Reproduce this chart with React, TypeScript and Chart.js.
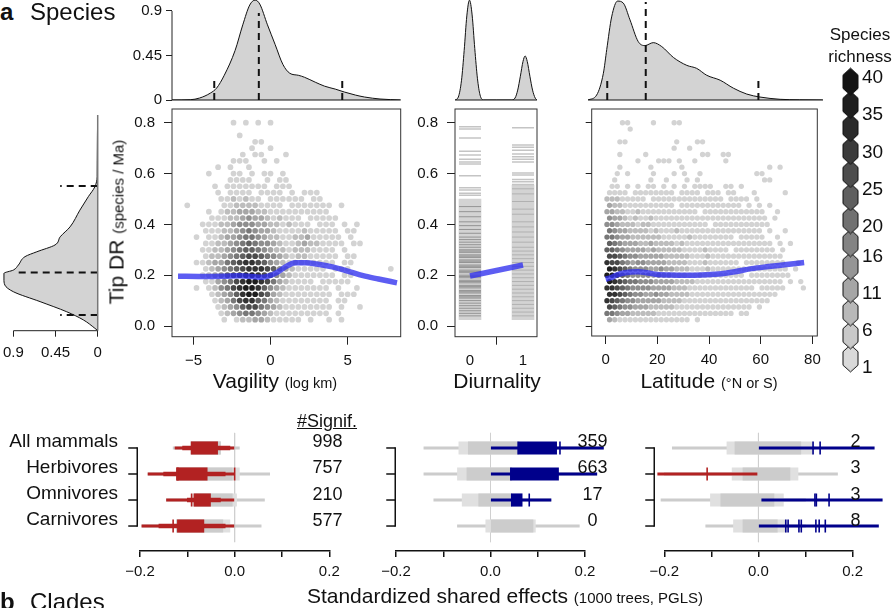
import React, { useEffect, useRef } from 'react';
import { Chart, registerables } from 'chart.js';

Chart.register(...registerables);
const FONT = '"Liberation Sans", Arial, Helvetica, sans-serif';
Chart.defaults.font.family = FONT;
Chart.defaults.font.size = 15;
Chart.defaults.color = '#111';

// ================= DATA =================
// tick values / labels
const vagTicks = [-5, 0, 5];
const vagTickLabels = ['\u22125', '0', '5'];
const diurTicks = [0, 1];
const diurTickLabels = ['0', '1'];
const latTicks = [0, 20, 40, 60, 80];
const latTickLabels = ['0', '20', '40', '60', '80'];
const drTicks = [0, 0.2, 0.4, 0.6, 0.8];
const drTickLabels = ['0.0', '0.2', '0.4', '0.6', '0.8'];
const densTicks = [0, 0.45, 0.9];
const densTickLabels = ['0', '0.45', '0.9'];

// marginal density: vagility (top)
const vagDensX = [-6.4, -5.2, -4.6, -3.9, -3.5, -3.0, -2.3, -1.8, -1.35, -1.0, -0.7, -0.2, 0.3, 0.8, 1.25, 1.8, 2.2, 2.9, 3.5, 4.2, 4.8, 5.5, 6.1, 7.1, 8.44];
const vagDensY = [0, 0.003, 0.02, 0.07, 0.12, 0.25, 0.5, 0.76, 0.96, 1.01, 0.97, 0.76, 0.56, 0.36, 0.27, 0.25, 0.23, 0.18, 0.14, 0.11, 0.08, 0.05, 0.03, 0.01, 0];
const vagDashX = [-3.65, -0.76, 4.65];
const vagDashH = [0.23, 0.88, 0.23];

// marginal density: diurnality (top)
const diurDensX = [-0.28, -0.22, -0.16, -0.11, -0.06, -0.01, 0.04, 0.09, 0.14, 0.19, 0.26, 0.5, 0.78, 0.85, 0.9, 0.95, 1.0, 1.04, 1.08, 1.13, 1.18, 1.23, 1.264];
const diurDensY = [0, 0.03, 0.2, 0.5, 0.85, 1.01, 0.86, 0.52, 0.22, 0.05, 0, 0, 0, 0.02, 0.1, 0.24, 0.39, 0.445, 0.39, 0.24, 0.1, 0.02, 0];

// marginal density: latitude (top)
const latDensX = [-6.85, -3.5, -0.9, 0.4, 2.3, 4.6, 6.8, 9.4, 12.6, 15.2, 18.4, 21.7, 26.2, 31.4, 35.2, 39.1, 44.3, 49.4, 54.6, 59.7, 67.5, 75, 84];
const latDensY = [0, 0.05, 0.27, 0.51, 0.84, 1.0, 0.98, 0.81, 0.59, 0.55, 0.58, 0.54, 0.43, 0.35, 0.32, 0.25, 0.2, 0.12, 0.06, 0.03, 0.007, 0.002, 0];
const latDashX = [0.6, 15.5, 59.1];
const latDashH = [0.22, 0.99, 0.22];

// marginal density: tip DR (left)
const drDensY = [-0.018, -0.009, 0.024, 0.056, 0.096, 0.135, 0.161, 0.185, 0.207, 0.22, 0.24, 0.273, 0.292, 0.319, 0.351, 0.39, 0.456, 0.509, 0.548, 0.587, 0.65, 0.75, 0.83];
const drDensX = [0, 0.03, 0.153, 0.33, 0.615, 0.9, 0.99, 1.0, 1.0, 0.9, 0.846, 0.775, 0.65, 0.455, 0.4, 0.295, 0.19, 0.1, 0.03, 0.006, 0.005, 0.003, 0];
const drDashY = [0.043, 0.211, 0.551];
const drDashW = [0.4, 0.88, 0.4];

// loess fits
const vagFitX = [-6.0, -4.5, -3.0, -2.0, -1.4, -0.9, -0.5, -0.15, 0.4, 1.0, 1.6, 2.3, 3.0, 4.0, 5.0, 6.0, 7.0, 8.2];
const vagFitY = [0.196, 0.195, 0.196, 0.198, 0.196, 0.193, 0.192, 0.196, 0.21, 0.234, 0.249, 0.249, 0.244, 0.233, 0.216, 0.198, 0.185, 0.17];
const diurFitX = [0, 1];
const diurFitY = [0.197, 0.24];
const latFitX = [0, 2, 4, 7.5, 12.6, 16, 19.1, 25, 30.7, 37, 43.6, 50, 56.5, 63, 70, 76.8];
const latFitY = [0.185, 0.19, 0.2, 0.21, 0.214, 0.21, 0.204, 0.201, 0.2, 0.201, 0.205, 0.214, 0.226, 0.234, 0.242, 0.25];

// hexbin counts (level 1..9 per cell, '.' empty); rows from DR 0.8 down by 0.025
const hexDRTop = 0.8;
const hexDRStep = 0.025;
const vagHexX0 = -6.0;
const vagHexStep = 0.4;
const vagHexRows = [
  '.........1.1.1.1',
  '',
  '..........1',
  '............11',
  '............1..1',
  '..........1.11...1',
  '.........111..1.1',
  '......1.1..1',
  '.....1...11.1.11.1',
  '........1111..1.11',
  '......1.1111111.111',
  '......1.1111.1111.1.111',
  '.......1121211.111111.11',
  '.1.....1122221111.1111111.1',
  '.....1.122333221111111111',
  '.....111223433212111.11111',
  '....111223444332212111.111.1.1',
  '....1112234543321111211111.11',
  '...1.1123345543221122311111.1',
  '....11223456544321123221111.11',
  '....1122345665432212221111.1',
  '....1223456776543212211111.11',
  '...11233567887643212111111.11',
  '....12345678887643211111.111......1',
  '....1234678998764321111111.11',
  '....113457899875321111.11111',
  '...1.12457899864321111111.1..1',
  '.....12346899763211111111.111',
  '......1235788653211111111.11',
  '......1234677543211111111.1..1',
  '.......123455432111111111.1',
  '.......1.12233211111.1..1.1',
];
const latHexX0 = 0.5;
const latHexStep = 2;
const latHexRows = [
  '...11....1...11',
  '....1',
  '',
  '..11.........1...11',
  '.............1..1',
  '..1....1..........11..11',
  '......1...111.1..1.....1',
  '..1.....1.....1................1.1',
  '..1.1....1...1.1..1..........11',
  '.1......1..1...1.1............11',
  '.11.1.1.11.1.1.1.1111..11.1',
  '1111.11111111.1111.111.11...1.....1',
  '22211111.11111111111111.1111.1',
  '3221111111111.111111111111.1.1.1',
  '332211211111111111.111111111111..1',
  '4332121121111111111111111111111.1',
  '44322212211111111111.11111111111',
  '543322221211121111111111111111.1..1',
  '5543322222211111211111111.11111..1',
  '65433322322221211111111111111111.1.1',
  '665433332322222111121111.11111111.1',
  '7765443333322222111211111111111111',
  '87754344333322221112111111.11111111..1',
  '98765444334332221112111111111111111.1',
  '998654444343322211211111111.11111111',
  '9876554443333222211111111111111111.1.1',
  '88765444433332221111111111111.11111...1',
  '887654433433222211111111111111111',
  '87654433333222211111111111111111',
  '7654433322222111111111111111.1',
  '5543322222111111111111111.11',
  '3211111111111111.1',
];

// diurnality: tip DR of species (as horizontal strokes)
const diur0Band = [0.025, 0.5];
const diur1Band = [0.025, 0.555];
const diur0Sparse = [0.784, 0.775, 0.74, 0.688, 0.673, 0.656, 0.645, 0.638, 0.591, 0.544, 0.535, 0.522, 0.515];
const diur1Sparse = [0.78, 0.712, 0.703, 0.692, 0.677, 0.666, 0.656, 0.645, 0.602, 0.594, 0.577, 0.568, 0.557];
const diur0Dense = [0.47, 0.45, 0.43, 0.41, 0.395, 0.38, 0.365, 0.35, 0.34, 0.33, 0.32, 0.31, 0.3, 0.295, 0.29, 0.28, 0.275, 0.27, 0.26, 0.255, 0.25, 0.24, 0.235, 0.23, 0.22, 0.215, 0.21, 0.2, 0.195, 0.19, 0.18, 0.175, 0.17, 0.16, 0.155, 0.15, 0.14, 0.135, 0.13, 0.12, 0.115, 0.11, 0.1, 0.09, 0.08, 0.07, 0.06, 0.05, 0.04];
const diur1Dense = [0.54, 0.52, 0.49, 0.46, 0.44, 0.41, 0.39, 0.37, 0.35, 0.33, 0.31, 0.295, 0.28, 0.265, 0.25, 0.235, 0.22, 0.205, 0.19, 0.175, 0.16, 0.145, 0.13, 0.115, 0.1, 0.085, 0.07, 0.055, 0.04];

// species richness legend
const legendTicks = [1, 6, 11, 16, 20, 25, 30, 35, 40];
const legendBins = [2.3, 5.4, 8.5, 11.6, 14.7, 17.8, 20.9, 24.0, 27.1, 30.2, 33.3, 36.4, 39.5];
const legendColors = ['#d9d9d9', '#c9c9c9', '#b8b8b8', '#a6a6a6', '#959595', '#838383', '#717171', '#5f5f5f', '#4d4d4d', '#3b3b3b', '#2b2b2b', '#1f1f1f', '#141414'];

// standardized shared effects (rows: all, herbivores, omnivores, carnivores)
const effGroups = ['All mammals', 'Herbivores', 'Omnivores', 'Carnivores'];
const effRows = [0, 1, 2, 3];
const effTicks = [-0.2, -0.1, 0, 0.1, 0.2];
const effTickLabels = ['\u22120.2', '', '0.0', '', '0.2'];
const effZeroSpan = [-0.58, 3.62];

const effVagGrayThin = [[-0.13, 0.01], [-0.183, 0.074], [-0.144, 0.063], [-0.196, 0.056]];
const effVagGrayBox = [[-0.092, -0.03], [-0.123, 0.01], [-0.091, 0.004], [-0.123, -0.01]];
const effVagGrayCore = [[-0.092, -0.03], [-0.123, -0.005], [-0.085, -0.005], [-0.123, -0.025]];
const effVagSigThin = [[-0.126, 0.0], [-0.183, 0.0], [-0.144, 0.0], [-0.196, 0.0]];
const effVagSigMid = [[-0.11, -0.01], [-0.15, -0.02], [-0.1, -0.03], [-0.16, -0.02]];
const effVagSigBox = [[-0.092, -0.036], [-0.123, -0.058], [-0.086, -0.051], [-0.121, -0.065]];
const effVagTicks = [[1, -0.12], [1, 0.0], [2, -0.091], [3, -0.13]];
const effVagSignif = [998, 757, 210, 577];
const effVagSigColor = ['red', 'red', 'red', 'red'];

const effDiurGrayThin = [[-0.141, 0.239], [-0.141, 0.225], [-0.12, 0.128], [-0.07, 0.188]];
const effDiurGrayBox = [[-0.067, 0.06], [-0.07, 0.045], [-0.06, 0.045], [-0.01, 0.095]];
const effDiurGrayCore = [[-0.047, 0.06], [-0.05, 0.045], [-0.025, 0.045], [0.0, 0.09]];
const effDiurSigThin = [[0.0, 0.239], [0.0, 0.225], [0.0, 0.128], null];
const effDiurSigBox = [[0.0575, 0.14], [0.042, 0.144], [0.044, 0.067], null];
const effDiurTicks = [[0, 0.147], [2, 0.082]];
const effDiurSignif = [359, 663, 17, 0];
const effDiurSigColor = ['blue', 'blue', 'blue', 'blue'];

const effLatGrayThin = [[-0.183, 0.12], [-0.2, 0.168], [-0.207, 0.1], [-0.112, 0.1]];
const effLatGrayBox = [[-0.067, 0.116], [-0.056, 0.084], [-0.102, 0.053], [-0.053, 0.06]];
const effLatGrayCore = [[-0.05, 0.09], [-0.033, 0.067], [-0.08, 0.033], [-0.033, 0.04]];
const effLatSigThin = [[0.0, 0.246], [-0.214, -0.003], [0.007, 0.263], [0.0, 0.255]];
const effLatSigBox = [null, null, null, null];
const effLatTicks = [[0, 0.116], [0, 0.131], [1, -0.109], [2, 0.12], [2, 0.123], [2, 0.15], [3, 0.058], [3, 0.063], [3, 0.086], [3, 0.091], [3, 0.122], [3, 0.129], [3, 0.142]];
const effLatSignif = [2, 3, 3, 8];
const effLatSigColor = ['blue', 'red', 'blue', 'blue'];

// ================= STYLE / HELPERS =================
const GRAY = ['', '#d3d3d3', '#bdbdbd', '#a6a6a6', '#8f8f8f', '#787878', '#616161', '#4a4a4a', '#333333', '#1d1d1d'];
const RED = '#b22222';
const BLUE = '#00008b';
const LIGHT = '#cccccc';
const FADE = '#e0e0e0';
const FIT = 'rgba(48,48,238,0.78)';
const DENS_FILL = '#d3d3d3';

const pts = (xs: number[], ys: number[]) => xs.map((x, i) => ({ x, y: ys[i] }));

function hexCells(rows: string[], x0: number, dx: number) {
  const data: { x: number; y: number }[] = [];
  const colors: string[] = [];
  rows.forEach((row, r) => {
    for (let c = 0; c < row.length; c++) {
      const ch = row[c];
      if (ch === '.') continue;
      data.push({ x: x0 + dx * (c + (r % 2) * 0.5), y: hexDRTop - hexDRStep * r });
      colors.push(GRAY[Number(ch)]);
    }
  });
  return { data, colors };
}

const zeroPad = (s: any) => { s.paddingTop = 0; s.paddingBottom = 0; s.paddingLeft = 0; s.paddingRight = 0; };

function axis(o: any) {
  if (o.display === false) return { type: 'linear', display: false, min: o.min, max: o.max, reverse: !!o.reverse, offset: false };
  const tl = o.tickLen || 0;
  return {
    type: 'linear', min: o.min, max: o.max, reverse: !!o.reverse, offset: false, position: o.position,
    afterBuildTicks: (s: any) => { s.ticks = o.ticks.map((v: number) => ({ value: v })); },
    afterFit: (s: any) => { if (o.horizontal) s.height = o.fit; else s.width = o.fit; zeroPad(s); },
    ticks: {
      callback: (_v: any, i: number) => (o.labels[i] ?? ''), autoSkip: false, maxRotation: 0, minRotation: 0,
      padding: o.pad ?? 6, font: { size: o.fontSize ?? 15 }, color: '#111', labelOffset: o.labelOffset ?? 0,
    },
    grid: { display: tl > 0, drawOnChartArea: false, drawTicks: tl > 0, tickLength: tl, color: o.color ?? '#222', lineWidth: o.width ?? 1 },
    border: { display: !!o.border, color: o.color ?? '#222', width: o.width ?? 1 },
  };
}

const baseOpts = (padding: any, plugins: any = {}) => ({
  animation: false, responsive: false, maintainAspectRatio: false, events: [],
  layout: { padding, autoPadding: false },
  plugins: { legend: { display: false }, tooltip: { enabled: false }, ...plugins },
});

const frameBox = {
  id: 'frameBox',
  afterDraw(chart: any) {
    const { ctx, chartArea: a } = chart;
    ctx.save();
    ctx.strokeStyle = '#333';
    ctx.lineWidth = 1;
    ctx.strokeRect(a.left, a.top, a.right - a.left, a.bottom - a.top);
    ctx.restore();
  },
};

const edgeLines = {
  id: 'edgeLines',
  afterDatasetsDraw(chart: any, _a: any, o: any) {
    if (!o || !o.sides) return;
    const { ctx, chartArea: a } = chart;
    ctx.save();
    ctx.strokeStyle = o.color || '#111';
    ctx.lineWidth = o.width || 1;
    ctx.beginPath();
    for (const s of o.sides) {
      if (s === 'bottom') { ctx.moveTo(a.left, a.bottom); ctx.lineTo(a.right, a.bottom); }
      if (s === 'right') { ctx.moveTo(a.right, a.top + 6); ctx.lineTo(a.right, a.bottom); }
    }
    ctx.stroke();
    ctx.restore();
  },
};

const axisLine = {
  id: 'axisLine',
  afterDraw(chart: any, _a: any, o: any) {
    if (!o || !o.ids) return;
    const ctx = chart.ctx;
    ctx.save();
    ctx.strokeStyle = '#222';
    ctx.lineWidth = 1;
    for (const id of o.ids) {
      const s = chart.scales[id];
      const t = s.ticks;
      if (!t || !t.length) continue;
      const p0 = s.getPixelForValue(t[0].value);
      const p1 = s.getPixelForValue(t[t.length - 1].value);
      ctx.beginPath();
      if (s.isHorizontal()) { ctx.moveTo(p0, s.top); ctx.lineTo(p1, s.top); }
      else { ctx.moveTo(s.right, p0); ctx.lineTo(s.right, p1); }
      ctx.stroke();
    }
    ctx.restore();
  },
};

const effDecor = {
  id: 'effDecor',
  afterDraw(chart: any, _a: any, o: any) {
    if (!o || !o.nSig) return;
    const { ctx, chartArea: a, scales: { x, y } } = chart;
    ctx.save();
    ctx.setLineDash([]);
    ctx.globalAlpha = 1;
    ctx.strokeStyle = '#111';
    ctx.lineWidth = 1.5;
    const bx = Math.round(a.left - o.gap) + 0.25;
    const top = y.getPixelForValue(effRows[0]);
    const bottom = y.getPixelForValue(effRows[effRows.length - 1]);
    ctx.beginPath();
    ctx.moveTo(bx, top - 0.75);
    ctx.lineTo(bx, bottom + 0.75);
    ctx.stroke();
    effRows.forEach((r) => {
      const yy = y.getPixelForValue(r);
      ctx.beginPath();
      ctx.moveTo(bx - 9, yy);
      ctx.lineTo(bx, yy);
      ctx.stroke();
    });
    ctx.fillStyle = '#111';
    ctx.font = `18px ${FONT}`;
    ctx.textAlign = 'center';
    ctx.textBaseline = 'alphabetic';
    o.nSig.forEach((n: number, i: number) => ctx.fillText(String(n), x.getPixelForValue(o.numX), y.getPixelForValue(effRows[i]) - 0.5));
    ctx.restore();
  },
};

// ================= CONFIG BUILDERS =================
function topDensityConfig(p: any) {
  const datasets: any[] = [
    { data: pts(p.x, p.y), borderColor: '#111', borderWidth: 1, backgroundColor: DENS_FILL, fill: 'origin', pointRadius: 0, cubicInterpolationMode: 'monotone', order: 2 },
  ];
  (p.dashX || []).forEach((dx: number, i: number) => datasets.push({
    data: [{ x: dx, y: 0 }, { x: dx, y: p.dashH[i] }], borderColor: '#111', borderWidth: 2, borderDash: [7, 5], pointRadius: 0, fill: false, order: 0,
  }));
  return {
    type: 'line',
    data: { datasets },
    options: {
      ...baseOpts(p.padding, { edgeLines: { sides: ['bottom'], color: '#111', width: 1 }, axisLine: p.yAxis ? { ids: ['y'] } : {} }),
      scales: {
        x: axis({ display: false, min: p.xMin, max: p.xMax }),
        y: p.yAxis
          ? axis({ min: 0, max: 1.011, ticks: densTicks, labels: densTickLabels, fit: p.yFit, tickLen: 6, pad: 4 })
          : axis({ display: false, min: 0, max: 1.011 }),
      },
    },
    plugins: [edgeLines, axisLine],
  };
}

function scatterConfig(p: any) {
  return {
    type: 'scatter',
    data: { datasets: p.datasets },
    options: {
      ...baseOpts(p.padding),
      scales: {
        x: axis({ min: p.xMin, max: p.xMax, ticks: p.xTicks, labels: p.xLabels, horizontal: true, fit: p.xFit, tickLen: 8, pad: 7 }),
        y: axis({ min: p.yMin, max: 0.854, ticks: drTicks, labels: p.yLabels ? drTickLabels : [], fit: p.yFit, tickLen: p.yTickLen ?? 8, pad: 9 }),
      },
    },
    plugins: [frameBox],
  };
}

function hexDataset(cells: any, radius: number) {
  return { type: 'scatter', data: cells.data, pointBackgroundColor: cells.colors, pointBorderWidth: 0, pointRadius: radius, pointHoverRadius: radius, order: 2 };
}
function fitDataset(xs: number[], ys: number[]) {
  return { type: 'line', data: pts(xs, ys), borderColor: FIT, borderWidth: 5.5, pointRadius: 0, cubicInterpolationMode: 'monotone', fill: false, order: 0, borderCapStyle: 'butt' };
}

function effectConfig(p: any) {
  const sigCols = p.sigColor.map((c: string) => (c === 'red' ? RED : BLUE));
  const bars = (ranges: any[], thick: number, colors: any, order: number) => {
    const data: any[] = [];
    const bg: string[] = [];
    ranges.forEach((r, i) => { if (r) { data.push({ y: effRows[i], x: r }); bg.push(Array.isArray(colors) ? colors[i] : colors); } });
    return { type: 'bar', data, backgroundColor: bg, borderWidth: 0, barThickness: thick, grouped: false, order, clip: false };
  };
  const datasets: any[] = [
    {
      type: 'scatter', data: p.ticks.map((t: number[]) => ({ x: t[1], y: t[0] })), pointStyle: 'line', pointRotation: 90,
      pointRadius: 6.5, pointBorderWidth: 1.6, pointBorderColor: p.ticks.map((t: number[]) => sigCols[t[0]]), order: 0, clip: false,
    },
    bars(p.sigBox, 12.5, sigCols, 1),
    bars(p.sigMid || [], 4, sigCols, 2),
    bars(p.sigThin, 2.2, sigCols, 3),
    bars(p.grayCore, 12.5, LIGHT, 4),
    bars(p.grayBox, 12.5, FADE, 5),
    bars(p.grayThin, 2.2, LIGHT, 6),
    { type: 'line', data: [{ x: 0, y: effZeroSpan[0] }, { x: 0, y: effZeroSpan[1] }], borderColor: '#d0d0d0', borderWidth: 1, pointRadius: 0, fill: false, order: 7, clip: false },
  ];
  const yScale = p.showLabels
    ? {
      type: 'linear', min: -1.46, max: 3.96, reverse: true, offset: false,
      afterBuildTicks: (s: any) => { s.ticks = effRows.map((v) => ({ value: v })); },
      afterFit: (s: any) => { s.width = 140; zeroPad(s); },
      ticks: { callback: (_v: any, i: number) => effGroups[i], autoSkip: false, padding: 22, font: { size: 19 }, color: '#111', labelOffset: -6 },
      grid: { display: false, drawTicks: false }, border: { display: false },
    }
    : { type: 'linear', display: false, min: -1.46, max: 3.96, reverse: true, offset: false };
  return {
    type: 'bar',
    data: { datasets },
    options: {
      indexAxis: 'y',
      ...baseOpts(p.padding, { effDecor: { nSig: p.nSig, numX: p.numX, gap: p.gap } }),
      scales: {
        x: axis({ min: -0.2, max: 0.2, ticks: effTicks, labels: effTickLabels, horizontal: true, fit: 44, tickLen: 6, pad: 6, border: true, color: '#111', width: 1.5 }),
        y: yScale,
      },
    },
    plugins: [effDecor],
  };
}

function hexImage(fill: string) {
  const c = document.createElement('canvas');
  c.width = 17; c.height = 29;
  const g = c.getContext('2d')!;
  const cx = 8.5, cy = 14.5, w = 7.5, h = 13.5;
  g.beginPath();
  g.moveTo(cx, cy - h); g.lineTo(cx + w, cy - h / 2); g.lineTo(cx + w, cy + h / 2);
  g.lineTo(cx, cy + h); g.lineTo(cx - w, cy + h / 2); g.lineTo(cx - w, cy - h / 2);
  g.closePath();
  g.fillStyle = fill; g.fill();
  g.strokeStyle = '#111'; g.lineWidth = 1; g.stroke();
  return c;
}

// ================= CHART FACTORIES =================
const makers: Record<string, () => any> = {
  topVag: () => topDensityConfig({ x: vagDensX, y: vagDensY, dashX: vagDashX, dashH: vagDashH, xMin: -6.39, xMax: 8.44, yAxis: true, yFit: 62, padding: { left: 0, right: 9.3, top: 0, bottom: 10 } }),
  topDiur: () => topDensityConfig({ x: diurDensX, y: diurDensY, xMin: -0.283, xMax: 1.264, padding: { left: 5, right: 8, top: 0, bottom: 10 } }),
  topLat: () => topDensityConfig({ x: latDensX, y: latDensY, dashX: latDashX, dashH: latDashH, xMin: -6.85, xMax: 84.1, padding: { left: 8, right: 7, top: 0, bottom: 10 } }),
  leftDR: () => {
    const datasets: any[] = [
      { data: pts(drDensX, drDensY), borderColor: '#111', borderWidth: 1, backgroundColor: DENS_FILL, fill: 'origin', pointRadius: 0, cubicInterpolationMode: 'monotone', order: 2 },
    ];
    drDashY.forEach((dy, i) => datasets.push({ data: [{ x: 0, y: dy }, { x: drDashW[i], y: dy }], borderColor: '#111', borderWidth: 2, borderDash: [7, 5], pointRadius: 0, fill: false, order: 0 }));
    return {
      type: 'line',
      data: { datasets },
      options: {
        indexAxis: 'y',
        ...baseOpts({ left: 3, right: 12.3, top: 9, bottom: 0 }, { edgeLines: { sides: ['right'], color: '#777', width: 1.5 }, axisLine: { ids: ['x'] } }),
        scales: {
          x: axis({ min: 0, max: 1.01, reverse: true, ticks: densTicks, labels: densTickLabels, horizontal: true, fit: 49.3, tickLen: 6, pad: 7 }),
          y: axis({ display: false, min: -0.0185, max: 0.854 }),
        },
      },
      plugins: [edgeLines, axisLine],
    };
  },
  scVag: () => scatterConfig({
    xMin: -6.39, xMax: 8.44, yMin: -0.042, xTicks: vagTicks, xLabels: vagTickLabels, yLabels: true, yFit: 62, xFit: 43.3,
    padding: { left: 0, right: 9.3, top: 9, bottom: 0 },
    datasets: [fitDataset(vagFitX, vagFitY), hexDataset(hexCells(vagHexRows, vagHexX0, vagHexStep), 2.85)],
  }),
  scDiur: () => {
    const stroke = (ys: number[], x: number, color: string, w: number, order: number) => ({
      type: 'scatter', data: ys.map((y) => ({ x, y })), pointStyle: 'line', pointRadius: 11, pointBorderWidth: w, pointBorderColor: color, order,
    });
    const band = (b: number[], x: number) => ({
      type: 'bar', data: [{ x, y: b }], backgroundColor: '#d3d3d3', borderWidth: 0, barThickness: 22, grouped: false, order: 4,
    });
    return scatterConfig({
      xMin: -0.283, xMax: 1.264, yMin: -0.042, xTicks: diurTicks, xLabels: diurTickLabels, yLabels: true, yFit: 55, xFit: 43.3,
      padding: { left: 0, right: 8, top: 9, bottom: 0 },
      datasets: [
        fitDataset(diurFitX, diurFitY),
        stroke(diur0Sparse, 0, '#c4c4c4', 1.5, 1),
        stroke(diur1Sparse, 1, '#c4c4c4', 1.5, 1),
        stroke(diur0Dense, 0, 'rgba(0,0,0,0.3)', 1, 2),
        stroke(diur1Dense, 1, 'rgba(0,0,0,0.16)', 1, 2),
        band(diur0Band, 0),
        band(diur1Band, 1),
      ],
    });
  },
  scLat: () => scatterConfig({
    xMin: -5.4, xMax: 81.9, yMin: -0.039, xTicks: latTicks, xLabels: latTickLabels, yLabels: false, yFit: 41.7, xFit: 44, yTickLen: 6,
    padding: { left: 0, right: 12.7, top: 9, bottom: 0 },
    datasets: [fitDataset(latFitX, latFitY), hexDataset(hexCells(latHexRows, latHexX0, latHexStep), 2.65)],
  }),
  legend: () => ({
    type: 'scatter',
    data: { datasets: [{ data: legendBins.map((v) => ({ x: 0, y: v })), pointStyle: legendColors.map(hexImage), pointRadius: 8, clip: false }] },
    options: {
      ...baseOpts({ left: 8, right: 0, top: 18, bottom: 12 }),
      scales: {
        x: axis({ display: false, min: -1, max: 1 }),
        y: axis({ min: 1, max: 40, ticks: legendTicks, labels: legendTicks.map(String), fit: 36, tickLen: 0, pad: 4, fontSize: 19, position: 'right' }),
      },
    },
  }),
  effVag: () => effectConfig({
    grayThin: effVagGrayThin, grayBox: effVagGrayBox, grayCore: effVagGrayCore, sigThin: effVagSigThin, sigMid: effVagSigMid, sigBox: effVagSigBox, ticks: effVagTicks,
    nSig: effVagSignif, sigColor: effVagSigColor, numX: 0.196, gap: 3, showLabels: true, padding: { left: 0, right: 30.7, top: 5, bottom: 0 },
  }),
  effDiur: () => effectConfig({
    grayThin: effDiurGrayThin, grayBox: effDiurGrayBox, grayCore: effDiurGrayCore, sigThin: effDiurSigThin, sigBox: effDiurSigBox, ticks: effDiurTicks,
    nSig: effDiurSignif, sigColor: effDiurSigColor, numX: 0.216, gap: 1, padding: { left: 26, right: 40, top: 5, bottom: 0 },
  }),
  effLat: () => effectConfig({
    grayThin: effLatGrayThin, grayBox: effLatGrayBox, grayCore: effLatGrayCore, sigThin: effLatSigThin, sigBox: effLatSigBox, ticks: effLatTicks,
    nSig: effLatSignif, sigColor: effLatSigColor, numX: 0.206, gap: 10, padding: { left: 34.3, right: 41.4, top: 5, bottom: 0 },
  }),
};

const boxes: { id: string; left: number; top: number; width: number; height: number }[] = [
  { id: 'topVag', left: 110, top: 0, width: 300, height: 110 },
  { id: 'topDiur', left: 450, top: 0, width: 95, height: 110 },
  { id: 'topLat', left: 580, top: 0, width: 250, height: 110 },
  { id: 'leftDR', left: 0, top: 100, width: 110, height: 280 },
  { id: 'scVag', left: 110, top: 100, width: 300, height: 280 },
  { id: 'scDiur', left: 400, top: 100, width: 145, height: 280 },
  { id: 'scLat', left: 550, top: 100, width: 280, height: 280 },
  { id: 'legend', left: 835, top: 60, width: 59, height: 320 },
  { id: 'effVag', left: 0, top: 405, width: 360, height: 190 },
  { id: 'effDiur', left: 370, top: 405, width: 255, height: 190 },
  { id: 'effLat', left: 630, top: 405, width: 264, height: 190 },
];

function ChartBox({ id, left, top, width, height }: { id: string; left: number; top: number; width: number; height: number }) {
  const ref = useRef<HTMLCanvasElement>(null);
  useEffect(() => {
    const cv = ref.current;
    if (!cv) return;
    const chart = new Chart(cv, makers[id]());
    return () => chart.destroy();
  }, [id]);
  return <canvas ref={ref} width={width} height={height} style={{ position: 'absolute', left, top, width, height }} />;
}

function T({ x, y, size, align = 'left', weight = 400, underline = false, children }: any) {
  const tx = align === 'center' ? '-50%' : align === 'right' ? '-100%' : '0';
  return (
    <div style={{
      position: 'absolute', left: x, top: y - 0.8465 * size, fontSize: size, lineHeight: `${size}px`, fontFamily: FONT,
      fontWeight: weight, color: '#111', whiteSpace: 'nowrap', transform: `translateX(${tx})`,
      textDecoration: underline ? 'underline' : 'none',
    }}>{children}</div>
  );
}

export default function App() {
  return (
    <div style={{ position: 'absolute', left: 0, top: 0, width: 894, height: 608, overflow: 'hidden', background: '#fff', fontFamily: FONT }}>
      {boxes.map((b) => <ChartBox key={b.id} {...b} />)}
      <T x={0} y={20} size={24} weight={700}>a</T>
      <T x={30} y={20} size={24}>Species</T>
      <T x={0} y={610} size={24} weight={700}>b</T>
      <T x={30} y={610} size={24}>Clades</T>
      <div style={{
        position: 'absolute', left: 117, top: 222, transform: 'translate(-50%, -50%) rotate(-90deg)', fontSize: 21, lineHeight: '21px',
        fontFamily: FONT, color: '#111', whiteSpace: 'nowrap',
      }}>Tip DR <span style={{ fontSize: 15 }}>(species / Ma)</span></div>
      <T x={275} y={388} size={21} align="center">Vagility <span style={{ fontSize: 14.5 }}>(log km)</span></T>
      <T x={497} y={388} size={21} align="center">Diurnality</T>
      <T x={709} y={388} size={21} align="center">Latitude <span style={{ fontSize: 14.5 }}>(°N or S)</span></T>
      <T x={860} y={40} size={17} align="center">Species</T>
      <T x={860} y={62} size={17} align="center">richness</T>
      <T x={327} y={427} size={18} align="center" underline>#Signif.</T>
      <T x={505} y={603} size={21} align="center">Standardized shared effects <span style={{ fontSize: 15 }}>(1000 trees, PGLS)</span></T>
    </div>
  );
}
